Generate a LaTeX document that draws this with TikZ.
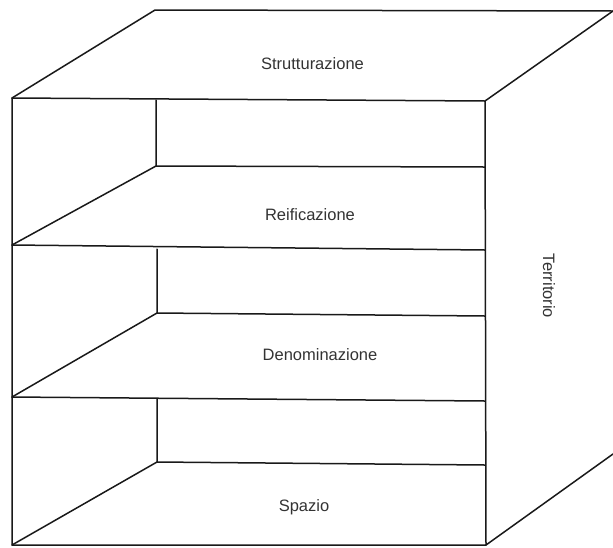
\documentclass[tikz,border=0pt]{standalone}
\usepackage{fontspec}
\setmainfont{Liberation Sans}
\begin{document}
\begin{tikzpicture}[x=1pt,y=-1pt,
  edge/.style={line width=1.5pt,line join=round,line cap=round,black!90},
  lbl/.style={font=\fontsize{16.5}{18}\selectfont,text=black!80,inner sep=0pt}]
\useasboundingbox (0,0) rectangle (613,547);
% top face
\coordinate (tbl) at (155,10);
\coordinate (tbr) at (613,11);
\coordinate (tfl) at (12,98);
\coordinate (tfr) at (485,101);
% front right bottom
\coordinate (bfr) at (486,545);
\coordinate (bfl) at (12,545);
\coordinate (bbr) at (613,454);
% shelves: back-left, back-right, front-left, front-right
\coordinate (b1l) at (156,166); \coordinate (b1r) at (485,167);
\coordinate (f1l) at (12,245);  \coordinate (f1r) at (485,250);
\coordinate (v2t) at (157,249);
\coordinate (b2l) at (157,313); \coordinate (b2r) at (485,316);
\coordinate (f2l) at (12,397);  \coordinate (f2r) at (485,401);
\coordinate (v3t) at (157,399);
\coordinate (b3l) at (157,462); \coordinate (b3r) at (485,465);
\coordinate (v1t) at (156,100);
% drawing
\draw[edge] (tfl) -- (tbl) -- (tbr);
\draw[edge] (tfl) -- (tfr) -- (tbr);
\draw[edge] (tfl) -- (bfl) -- (bfr) -- (tfr);
\draw[edge] (bfr) -- (bbr);
\draw[edge] (v1t) -- (b1l) -- (b1r);
\draw[edge] (b1l) -- (f1l);
\draw[edge] (f1l) -- (f1r);
\draw[edge] (v2t) -- (b2l) -- (b2r);
\draw[edge] (b2l) -- (f2l);
\draw[edge] (f2l) -- (f2r);
\draw[edge] (v3t) -- (b3l) -- (b3r);
\draw[edge] (b3l) -- (bfl);
% labels
\node[lbl] (strut) at (312.5,64) {Strutturazione};
\node[lbl] (reif) at (310,215) {Reificazione};
\node[lbl] (denom) at (320,355) {Denominazione};
\node[lbl] (spaz) at (304,507) {Spazio};
\node[lbl,rotate=-90] (terr) at (549,286) {Territorio};
\end{tikzpicture}
\end{document}
